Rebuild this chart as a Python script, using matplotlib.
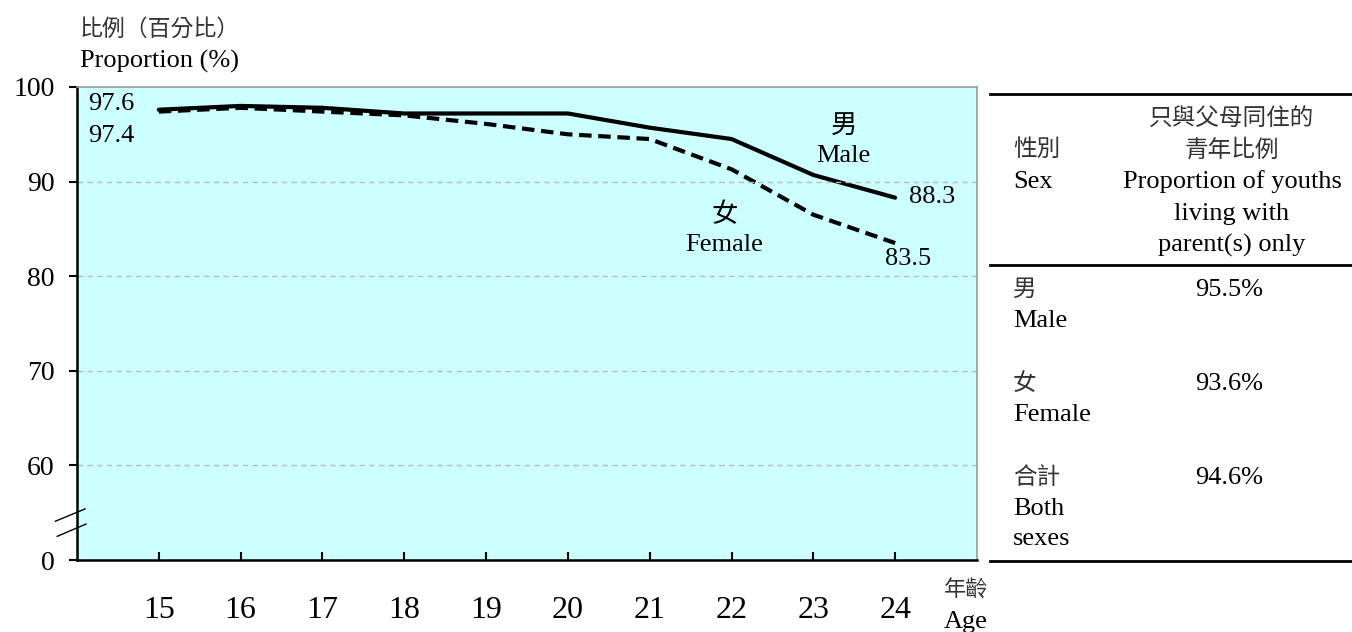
import matplotlib
matplotlib.use("Agg")
import matplotlib.pyplot as plt

plt.rcParams['font.family'] = ['Liberation Serif', 'Noto Sans CJK TC']

ages = [15, 16, 17, 18, 19, 20, 21, 22, 23, 24]
male = [97.6, 98.0, 97.8, 97.2, 97.2, 97.2, 95.7, 94.5, 90.7, 88.3]
female = [97.4, 97.8, 97.4, 97.0, 96.1, 95.0, 94.5, 91.3, 86.5, 83.5]
ytick_vals = [50, 60, 70, 80, 90, 100]   # 50 stands in for 0 (broken axis)
ytick_labels = ['0', '60', '70', '80', '90', '100']

table_rows = [('男', 'Male', '95.5%'), ('女', 'Female', '93.6%'), ('合計', 'Both\nsexes', '94.6%')]

W, H = 1352, 632
fig = plt.figure(figsize=(W / 100, H / 100), dpi=100)

def px(x, y):
    return x / W, 1 - y / H

EN = 19
ZH = 17

ax = fig.add_axes([77 / W, 1 - 560 / H, 900 / W, 473 / H])
ax.set_facecolor('#CCFFFF')
ax.plot(ages, male, color='black', lw=3, solid_capstyle='round')
ax.plot(ages, female, color='black', lw=3, ls=(0, (3, 1.6)))

ax.set_xlim(14, 25)
ax.set_ylim(50, 100)
ax.set_yticks(ytick_vals)
ax.set_yticklabels(ytick_labels, fontsize=20)
ax.set_xticks(ages)
ax.set_xticklabels([str(a) for a in ages], fontsize=23)
ax.tick_params(axis='x', direction='in', length=6, width=1.5, pad=26)
ax.tick_params(axis='y', direction='out', length=6, width=1.5, pad=10)
for v in [60, 70, 80, 90]:
    ax.axhline(v, color='#BBBBBB', lw=1, ls=(0, (4, 3)))
for s in ['left', 'bottom']:
    ax.spines[s].set_linewidth(1.8)
for s in ['top', 'right']:
    ax.spines[s].set_color('#999999')
    ax.spines[s].set_linewidth(1.2)

# axis break marks
tr = ax.get_yaxis_transform()
ax.plot([-0.024, 0.009], [54.1, 55.4], transform=tr, color='black', lw=1, clip_on=False)
ax.plot([-0.022, 0.010], [52.5, 53.8], transform=tr, color='black', lw=1, clip_on=False)

# data labels
ax.text(14.13, 98.2, '97.6', fontsize=EN, va='center', ha='left')
ax.text(14.13, 94.8, '97.4', fontsize=EN, va='center', ha='left')
ax.text(24.17, 88.4, '88.3', fontsize=EN, va='center', ha='left')
ax.text(23.88, 81.8, '83.5', fontsize=EN, va='center', ha='left')
ax.text(23.37, 94.3, '男\nMale', fontsize=EN, ha='center', va='center', linespacing=1.4)
ax.text(21.91, 85.0, '女\nFemale', fontsize=EN, ha='center', va='center', linespacing=1.4)

# axis titles
fig.text(*px(80, 30), '比例（百分比）', fontsize=ZH - 0.5, va='center', color='#333333')
fig.text(*px(80, 61), 'Proportion (%)', fontsize=EN, va='center')
fig.text(*px(966, 591), '年齡', fontsize=ZH - 1, va='center', ha='center', color='#333333')
fig.text(*px(966, 622), 'Age', fontsize=EN, va='center', ha='center')

# side table
for y in [94, 265, 561]:
    fig.add_artist(plt.Line2D([990 / W, 1], [1 - y / H] * 2, color='black', lw=2))
fig.text(*px(1013, 150), '性別', fontsize=ZH, va='center', color='#333333')
fig.text(*px(1013, 182), 'Sex', fontsize=EN, va='center')
fig.text(*px(1232, 120), '只與父母同住的', fontsize=ZH, va='center', ha='center', color='#333333')
fig.text(*px(1232, 150), '青年比例', fontsize=ZH, va='center', ha='center', color='#333333')
fig.text(*px(1232, 182), 'Proportion of youths', fontsize=EN, va='center', ha='center')
fig.text(*px(1232, 214), 'living with', fontsize=EN, va='center', ha='center')
fig.text(*px(1232, 245), 'parent(s) only', fontsize=EN, va='center', ha='center')
row_y = [290, 384, 478]
for (zh, en, val), y in zip(table_rows, row_y):
    fig.text(*px(1013, y), zh, fontsize=ZH, va='center', color='#333333')
    fig.text(*px(1013, y + 20), en, fontsize=EN, va='top', linespacing=1.45)
    fig.text(*px(1195, y), val, fontsize=EN, va='center')

fig.savefig('out.png', dpi=100)
